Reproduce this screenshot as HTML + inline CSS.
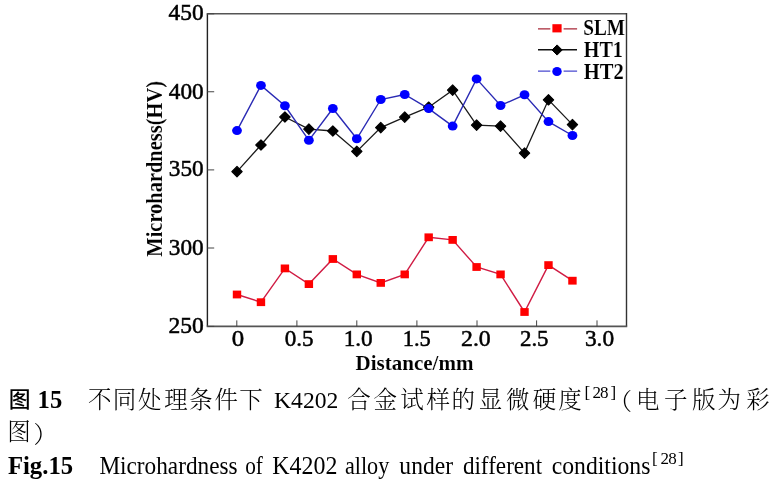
<!DOCTYPE html>
<html><head><meta charset="utf-8"><title>Fig.15 Microhardness of K4202 alloy under different conditions</title>
<style>
html,body{margin:0;padding:0;background:#fff;}
body{width:774px;height:483px;position:relative;overflow:hidden;}
svg text{font-family:"Liberation Serif","Noto Serif CJK SC",serif;fill:#000;}
svg .r{font-family:"Liberation Serif",serif;font-weight:400;}
svg .t{font-family:"Liberation Serif",serif;font-weight:400;stroke:#000;stroke-width:0.5px;}
svg .cb{font-family:"Liberation Serif",serif;font-weight:700;stroke:#fff;stroke-width:0.1px;}
svg .b{font-family:"Liberation Serif",serif;font-weight:700;}
svg .s{font-family:"Liberation Serif","Noto Serif CJK SC",serif;font-weight:400;}
svg .s3{font-family:"Liberation Serif","Noto Serif CJK SC",serif;font-weight:300;}
svg .h{font-family:"Liberation Sans","Noto Sans CJK SC",sans-serif;font-weight:500;}
</style></head><body>
<svg width="774" height="483" viewBox="0 0 774 483" style="position:absolute;left:0;top:0" fill="none">
<path d="M207.4 13.8V326.4" stroke="#222" stroke-width="1.4"/><path d="M206.7 13.8H626.5" stroke="#555" stroke-width="1.4"/><path d="M626.5 13.1V326.4" stroke="#333" stroke-width="1.4"/><path d="M206.7 326.4H627.2" stroke="#555" stroke-width="1.6"/><path d="M207.4 13.80h6.8 M207.4 91.75h6.8 M207.4 169.90h6.8 M207.4 248.00h6.8 M207.4 326.40h6.8 M236.80 326.4v-6 M296.90 326.4v-6 M356.80 326.4v-6 M416.90 326.4v-6 M477.00 326.4v-6 M536.60 326.4v-6 M597.00 326.4v-6" stroke="#444" stroke-width="1"/>
<polyline points="237.00,294.50 260.96,302.20 284.92,268.40 308.88,284.10 332.84,259.00 356.80,274.40 380.76,282.90 404.72,274.40 428.68,237.30 452.64,239.90 476.60,267.00 500.56,274.40 524.52,312.00 548.48,265.10 572.44,280.70" stroke="#d01c44" stroke-width="1.4"/>
<polyline points="237.00,171.60 260.96,145.00 284.92,117.00 308.88,129.10 332.84,131.00 356.80,151.40 380.76,127.60 404.72,117.10 428.68,107.20 452.64,90.10 476.60,125.10 500.56,126.10 524.52,153.10 548.48,99.80 572.44,124.60" stroke="#1a1a1a" stroke-width="1.3"/>
<polyline points="237.00,130.60 260.96,85.40 284.92,105.80 308.88,140.30 332.84,108.50 356.80,138.80 380.76,99.50 404.72,94.50 428.68,108.60 452.64,126.10 476.60,78.90 500.56,105.50 524.52,94.80 548.48,121.60 572.44,135.50" stroke="#2a2ab4" stroke-width="1.4"/>
<g fill="#000" stroke="#000" stroke-width="1.1" stroke-linejoin="round"><path d="M237.00 166.40L242.20 171.60L237.00 176.80L231.80 171.60Z"/><path d="M260.96 139.80L266.16 145.00L260.96 150.20L255.76 145.00Z"/><path d="M284.92 111.80L290.12 117.00L284.92 122.20L279.72 117.00Z"/><path d="M308.88 123.90L314.08 129.10L308.88 134.30L303.68 129.10Z"/><path d="M332.84 125.80L338.04 131.00L332.84 136.20L327.64 131.00Z"/><path d="M356.80 146.20L362.00 151.40L356.80 156.60L351.60 151.40Z"/><path d="M380.76 122.40L385.96 127.60L380.76 132.80L375.56 127.60Z"/><path d="M404.72 111.90L409.92 117.10L404.72 122.30L399.52 117.10Z"/><path d="M428.68 102.00L433.88 107.20L428.68 112.40L423.48 107.20Z"/><path d="M452.64 84.90L457.84 90.10L452.64 95.30L447.44 90.10Z"/><path d="M476.60 119.90L481.80 125.10L476.60 130.30L471.40 125.10Z"/><path d="M500.56 120.90L505.76 126.10L500.56 131.30L495.36 126.10Z"/><path d="M524.52 147.90L529.72 153.10L524.52 158.30L519.32 153.10Z"/><path d="M548.48 94.60L553.68 99.80L548.48 105.00L543.28 99.80Z"/><path d="M572.44 119.40L577.64 124.60L572.44 129.80L567.24 124.60Z"/></g>
<g fill="#0000ff"><ellipse cx="237.00" cy="130.60" rx="4.9" ry="4.5"/><ellipse cx="260.96" cy="85.40" rx="4.9" ry="4.5"/><ellipse cx="284.92" cy="105.80" rx="4.9" ry="4.5"/><ellipse cx="308.88" cy="140.30" rx="4.9" ry="4.5"/><ellipse cx="332.84" cy="108.50" rx="4.9" ry="4.5"/><ellipse cx="356.80" cy="138.80" rx="4.9" ry="4.5"/><ellipse cx="380.76" cy="99.50" rx="4.9" ry="4.5"/><ellipse cx="404.72" cy="94.50" rx="4.9" ry="4.5"/><ellipse cx="428.68" cy="108.60" rx="4.9" ry="4.5"/><ellipse cx="452.64" cy="126.10" rx="4.9" ry="4.5"/><ellipse cx="476.60" cy="78.90" rx="4.9" ry="4.5"/><ellipse cx="500.56" cy="105.50" rx="4.9" ry="4.5"/><ellipse cx="524.52" cy="94.80" rx="4.9" ry="4.5"/><ellipse cx="548.48" cy="121.60" rx="4.9" ry="4.5"/><ellipse cx="572.44" cy="135.50" rx="4.9" ry="4.5"/></g>
<g fill="#ff0000"><rect x="232.80" y="290.60" width="8.4" height="7.8"/><rect x="256.76" y="298.30" width="8.4" height="7.8"/><rect x="280.72" y="264.50" width="8.4" height="7.8"/><rect x="304.68" y="280.20" width="8.4" height="7.8"/><rect x="328.64" y="255.10" width="8.4" height="7.8"/><rect x="352.60" y="270.50" width="8.4" height="7.8"/><rect x="376.56" y="279.00" width="8.4" height="7.8"/><rect x="400.52" y="270.50" width="8.4" height="7.8"/><rect x="424.48" y="233.40" width="8.4" height="7.8"/><rect x="448.44" y="236.00" width="8.4" height="7.8"/><rect x="472.40" y="263.10" width="8.4" height="7.8"/><rect x="496.36" y="270.50" width="8.4" height="7.8"/><rect x="520.32" y="308.10" width="8.4" height="7.8"/><rect x="544.28" y="261.20" width="8.4" height="7.8"/><rect x="568.24" y="276.80" width="8.4" height="7.8"/></g>
<path d="M538 28.8H550.3M563.6 28.8H577.1" stroke="#a82838" stroke-width="1.2"/>
<rect x="552.4" y="24.2" width="9.2" height="8.2" fill="#ff0000"/>
<path d="M538 49.8H577" stroke="#111" stroke-width="1.4"/>
<path d="M557.1 44.9L562.2 50L557.1 55.1L552 50Z" fill="#000" stroke="#000" stroke-width="1" stroke-linejoin="round"/>
<path d="M538 71.2H550.3M563.6 71.2H577.1" stroke="#4a4ad0" stroke-width="1.2"/>
<ellipse cx="557" cy="71.5" rx="4.7" ry="4.5" fill="#0000ff"/>
<g fill="#000">
<text x="168.63" y="20.00" class="t" font-size="22.6" textLength="35.05" lengthAdjust="spacingAndGlyphs">450</text>
<text x="168.84" y="98.55" class="t" font-size="22.6" textLength="34.84" lengthAdjust="spacingAndGlyphs">400</text>
<text x="168.82" y="176.25" class="t" font-size="22.6" textLength="34.85" lengthAdjust="spacingAndGlyphs">350</text>
<text x="168.82" y="254.70" class="t" font-size="22.6" textLength="34.85" lengthAdjust="spacingAndGlyphs">300</text>
<text x="168.41" y="333.10" class="t" font-size="22.6" textLength="35.28" lengthAdjust="spacingAndGlyphs">250</text>
<text x="231.73" y="346.00" class="t" font-size="22.6" textLength="12.40" lengthAdjust="spacingAndGlyphs">0</text>
<text x="284.68" y="346.00" class="t" font-size="22.6" textLength="28.89" lengthAdjust="spacingAndGlyphs">0.5</text>
<text x="343.70" y="346.00" class="t" font-size="22.6" textLength="29.03" lengthAdjust="spacingAndGlyphs">1.0</text>
<text x="402.66" y="346.00" class="t" font-size="22.6" textLength="28.08" lengthAdjust="spacingAndGlyphs">1.5</text>
<text x="461.00" y="346.00" class="t" font-size="22.6" textLength="29.74" lengthAdjust="spacingAndGlyphs">2.0</text>
<text x="519.94" y="346.00" class="t" font-size="22.6" textLength="28.63" lengthAdjust="spacingAndGlyphs">2.5</text>
<text x="584.92" y="346.00" class="t" font-size="22.6" textLength="29.21" lengthAdjust="spacingAndGlyphs">3.0</text>
<text x="355.52" y="369.50" class="cb" font-size="22" textLength="117.88" lengthAdjust="spacingAndGlyphs">Distance/mm</text>
<text x="583.23" y="34.90" class="cb" font-size="22.6" textLength="41.78" lengthAdjust="spacingAndGlyphs">SLM</text>
<text x="583.86" y="57.00" class="cb" font-size="22.6" textLength="39.01" lengthAdjust="spacingAndGlyphs">HT1</text>
<text x="583.85" y="78.90" class="cb" font-size="22.6" textLength="39.92" lengthAdjust="spacingAndGlyphs">HT2</text>
<g transform="translate(161.5 256.3) rotate(-90)"><text x="-0.34" y="0.00" class="cb" font-size="23" textLength="175.63" lengthAdjust="spacingAndGlyphs">Microhardness(HV)</text></g>
<text x="8.67" y="406.98" class="h" font-size="21.8">图</text>
<text x="37.59" y="408.00" class="b" font-size="24.5" textLength="24.61" lengthAdjust="spacingAndGlyphs">15</text>
<text x="274.06" y="408.00" class="r" font-size="24" textLength="64.25" lengthAdjust="spacingAndGlyphs">K4202</text>
<text x="7.90" y="474.00" class="b" font-size="24.5" textLength="65.21" lengthAdjust="spacingAndGlyphs">Fig.15</text>
<text x="99.38" y="474.00" class="r" font-size="24.2" textLength="138.21" lengthAdjust="spacingAndGlyphs">Microhardness</text>
<text x="245.22" y="474.00" class="r" font-size="24.2" textLength="17.70" lengthAdjust="spacingAndGlyphs">of</text>
<text x="272.26" y="474.00" class="r" font-size="24.2" textLength="65.10" lengthAdjust="spacingAndGlyphs">K4202</text>
<text x="344.91" y="474.00" class="r" font-size="24.2" textLength="44.41" lengthAdjust="spacingAndGlyphs">alloy</text>
<text x="399.36" y="474.00" class="r" font-size="24.2" textLength="53.64" lengthAdjust="spacingAndGlyphs">under</text>
<text x="462.88" y="474.00" class="r" font-size="24.2" textLength="79.23" lengthAdjust="spacingAndGlyphs">different</text>
<text x="551.72" y="474.00" class="r" font-size="24.2" textLength="98.69" lengthAdjust="spacingAndGlyphs">conditions</text>
<text x="584.48 592.38 600.05 610.40" y="397.70 397.80 397.55 397.70" class="r" font-size="17">[28]</text>
<text x="651.88 660.42 668.25 678.05" y="463.90 464.00 463.75 463.90" class="r" font-size="17">[28]</text>
<text x="7.35 33.62" y="440.00 442.68" class="s3" font-size="23.5">图）</text>
<text x="88.12 112.70 138.00 164.28 188.95 214.62 239.35" y="408.30" class="s3" font-size="23.5">不同处理条件下</text>
<text x="347.27 373.45 400.18 426.42 451.40 478.77 506.02 532.85 558.33" y="408.30" class="s3" font-size="23.5">合金试样的显微硬度</text>
<text x="608.47 636.12 664.02 692.05 717.62 746.20" y="410.48 408.30" class="s3" font-size="23.5">（电子版为彩</text>

</g>
</svg>
</body></html>
